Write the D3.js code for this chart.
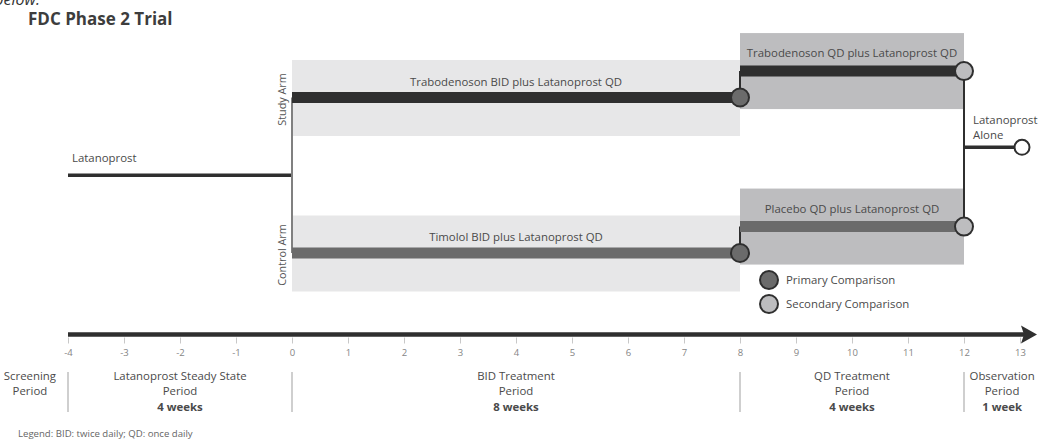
<!DOCTYPE html>
<html><head><meta charset="utf-8">
<script src="https://cdn.jsdelivr.net/npm/d3@7"></script>
<style>
body{margin:0;background:#fff;}
svg{display:block;font-family:"Open Sans",sans-serif;}
</style>
</head><body>
<svg id="chart" width="1038" height="439"></svg>
<script>
// ---------- data ----------
const tickWeeks = [-4,-3,-2,-1,0,1,2,3,4,5,6,7,8,9,10,11,12,13];
const periodNames = ["Screening","Latanoprost Steady State","BID Treatment","QD Treatment","Observation"];
const periodDurations = ["","4 weeks","8 weeks","4 weeks","1 week"];
const periodCenters = [-4.68,-2,4,10,12.68];
const periodDividers = [-4,0,8,12];
const armNames = ["Study Arm","Control Arm"];
const armLevels = [1,-1];
const bidLabels = ["Trabodenoson BID plus Latanoprost QD","Timolol BID plus Latanoprost QD"];
const qdLabels = ["Trabodenoson QD plus Latanoprost QD","Placebo QD plus Latanoprost QD"];
const bidWeeks = [0,8];
const qdWeeks = [8,12];
const runInWeeks = [-4,0];
const aloneWeeks = [12,13];
const legendLabels = ["Primary Comparison","Secondary Comparison"];

// ---------- style ----------
const C = {dark:"#2f2f2f", mid:"#6b6b6b", light:"#bdbdbf", pale:"#e7e7e8", text:"#4a4a4a", tick:"#858585"};
const FS = 11.4;
const qdShift = 0.34;

const svg = d3.select("#chart");
const x = d3.scaleLinear().domain([-4,13]).range([68,1020]);
const y = d3.scaleLinear().domain([-1,1]).range([253,97.5]);
const boxHalf = 38;

// cut-off text at the very top (as in the reference)
svg.append("text").attr("x",40).attr("y",5).attr("text-anchor","end")
  .attr("font-style","italic").attr("font-size",16).attr("fill","#333").text("below.");

// title
svg.append("text").attr("x",28).attr("y",25).attr("font-weight","bold")
  .attr("font-size",17).attr("fill","#3d3d3d").text("FDC Phase 2 Trial");

// boxes
const g = svg.append("g");
armLevels.forEach((lv,i)=>{
  g.append("rect").attr("x",x(bidWeeks[0])).attr("width",x(bidWeeks[1])-x(bidWeeks[0]))
    .attr("y",y(lv)-boxHalf+0.5).attr("height",boxHalf*2).attr("fill",C.pale);
  const qy = y(lv+qdShift);
  g.append("rect").attr("x",x(qdWeeks[0])).attr("width",x(qdWeeks[1])-x(qdWeeks[0]))
    .attr("y",qy-boxHalf).attr("height",boxHalf*2).attr("fill",C.light);
});

// run-in line
g.append("line").attr("x1",x(runInWeeks[0])).attr("x2",x(runInWeeks[1]))
  .attr("y1",y(0)).attr("y2",y(0)).attr("stroke",C.dark).attr("stroke-width",3.5);
g.append("text").attr("x",x(runInWeeks[0])+4).attr("y",y(0)-13)
  .attr("font-size",FS).attr("fill",C.text).text("Latanoprost");

// randomisation vertical
g.append("line").attr("x1",x(0)).attr("x2",x(0)).attr("y1",y(1)).attr("y2",y(-1))
  .attr("stroke","#808080").attr("stroke-width",2);

// vertical at week 12
g.append("line").attr("x1",x(12)).attr("x2",x(12))
  .attr("y1",y(1+qdShift)).attr("y2",y(-1+qdShift)).attr("stroke",C.dark).attr("stroke-width",2);

// arms
armLevels.forEach((lv,i)=>{
  const col = i===0?C.dark:C.mid;
  const by = y(lv), qy = y(lv+qdShift);
  g.append("line").attr("x1",x(qdWeeks[0])).attr("x2",x(qdWeeks[0])).attr("y1",by).attr("y2",qy)
    .attr("stroke",C.dark).attr("stroke-width",2);
  g.append("line").attr("x1",x(bidWeeks[0])).attr("x2",x(bidWeeks[1])).attr("y1",by).attr("y2",by)
    .attr("stroke",col).attr("stroke-width",11);
  g.append("line").attr("x1",x(qdWeeks[0])).attr("x2",x(qdWeeks[1])).attr("y1",qy).attr("y2",qy)
    .attr("stroke",col).attr("stroke-width",11);
  g.append("text").attr("x",(x(bidWeeks[0])+x(bidWeeks[1]))/2).attr("y",by-12)
    .attr("text-anchor","middle").attr("font-size",FS).attr("fill",C.text).text(bidLabels[i]);
  g.append("text").attr("x",(x(qdWeeks[0])+x(qdWeeks[1]))/2).attr("y",qy-14)
    .attr("text-anchor","middle").attr("font-size",FS).attr("fill",C.text).text(qdLabels[i]);
  g.append("circle").attr("cx",x(bidWeeks[1])).attr("cy",by).attr("r",9)
    .attr("fill",C.mid).attr("stroke",C.dark).attr("stroke-width",2);
  g.append("circle").attr("cx",x(qdWeeks[1])).attr("cy",qy).attr("r",9)
    .attr("fill",C.light).attr("stroke",C.dark).attr("stroke-width",2);
  g.append("text").attr("transform",`translate(${x(0)-6},${by+2}) rotate(-90)`)
    .attr("text-anchor","middle").attr("font-size",FS-0.6).attr("fill","#555").text(armNames[i]);
});

// latanoprost alone
const ay = y(qdShift)-1.5;
g.append("line").attr("x1",x(aloneWeeks[0])).attr("x2",x(aloneWeeks[1])).attr("y1",ay).attr("y2",ay)
  .attr("stroke",C.dark).attr("stroke-width",3.5);
g.append("circle").attr("cx",x(aloneWeeks[1])+2).attr("cy",ay).attr("r",7.5)
  .attr("fill","#fff").attr("stroke",C.dark).attr("stroke-width",2);
g.append("text").attr("x",x(aloneWeeks[0])+9).attr("y",ay-23).attr("font-size",FS).attr("fill",C.text)
  .text("Latanoprost");
g.append("text").attr("x",x(aloneWeeks[0])+9).attr("y",ay-8).attr("font-size",FS).attr("fill",C.text)
  .text("Alone");

// legend
const lg = svg.append("g").attr("transform","translate(769,280)");
legendLabels.forEach((lab,i)=>{
  lg.append("circle").attr("cx",0).attr("cy",i*24).attr("r",9)
    .attr("fill",i===0?C.mid:C.light).attr("stroke",C.dark).attr("stroke-width",2);
  lg.append("text").attr("x",17).attr("y",i*24+4).attr("font-size",FS).attr("fill",C.text).text(lab);
});

// time axis
const axisY = 334.5;
svg.append("line").attr("x1",x(-4)).attr("x2",1026).attr("y1",axisY).attr("y2",axisY)
  .attr("stroke",C.dark).attr("stroke-width",4.5);
svg.append("path").attr("d",`M1021,${axisY-9} L1037,${axisY} L1021,${axisY+9} L1024,${axisY} Z`).attr("fill",C.dark);
const ax = svg.append("g").attr("transform",`translate(0,${axisY+3})`)
  .call(d3.axisBottom(x).tickValues(tickWeeks).tickSize(6).tickPadding(6).tickFormat(d => String(d)));
ax.select(".domain").remove();
ax.selectAll(".tick line").attr("stroke","#c8c8c8");
ax.selectAll(".tick text").attr("fill",C.tick).attr("font-size",9.5).attr("font-family","Open Sans, sans-serif");

// period dividers
svg.selectAll(".div").data(periodDividers).enter().append("line")
  .attr("x1",d=>x(d)).attr("x2",d=>x(d)).attr("y1",372).attr("y2",412)
  .attr("stroke","#cfcfcf").attr("stroke-width",2);

// period labels
periodNames.forEach((nm,i)=>{
  const t = svg.append("text").attr("text-anchor","middle").attr("font-size",FS).attr("fill",C.text);
  const cx = x(periodCenters[i]);
  t.append("tspan").attr("x",cx).attr("y",379.5).text(nm);
  t.append("tspan").attr("x",cx).attr("y",394.5).text("Period");
  if (periodDurations[i]) t.append("tspan").attr("x",cx).attr("y",410.5).attr("font-weight","bold").text(periodDurations[i]);
});

svg.append("text").attr("x",18).attr("y",437).attr("font-size",9.6).attr("fill","#666")
  .text("Legend: BID: twice daily; QD: once daily");
</script>
</body></html>
